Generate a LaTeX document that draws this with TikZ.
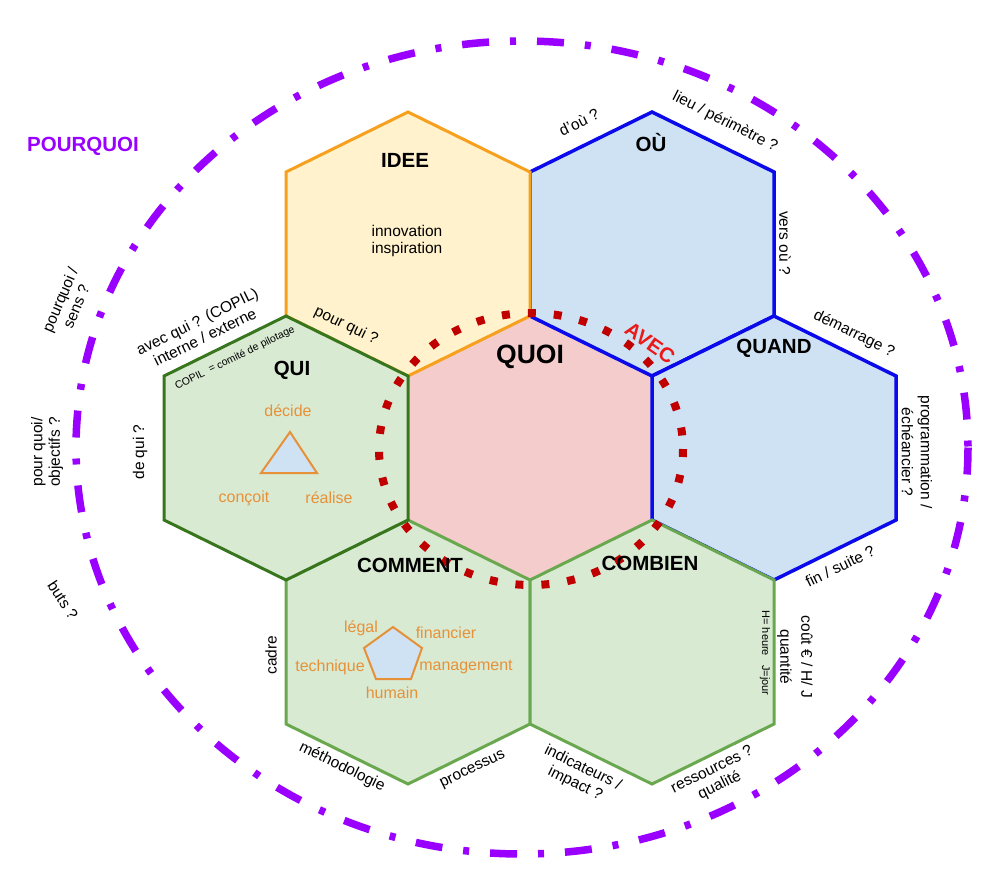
\documentclass[tikz,border=0pt]{standalone}
\usepackage{fontspec}
\setmainfont{Liberation Sans}
\definecolor{ideefill}{HTML}{FFF2CC}
\definecolor{ideeline}{RGB}{246,160,30}
\definecolor{bluefill}{HTML}{CFE2F3}
\definecolor{blueline}{RGB}{10,10,235}
\definecolor{pinkfill}{HTML}{F4CCCC}
\definecolor{greenfill}{HTML}{D9EAD3}
\definecolor{dkgreen}{HTML}{38761D}
\definecolor{mdgreen}{HTML}{6AA84F}
\definecolor{orangetxt}{HTML}{E69138}
\definecolor{dotred}{HTML}{C00000}
\definecolor{avecred}{RGB}{235,25,25}
\definecolor{violet}{HTML}{9900FF}
\begin{document}
\begin{tikzpicture}[x=1pt,y=-1pt,
  hexa/.pic={\path[pic actions] (-122,-72) -- (0,-132) -- (122,-72) -- (122,72) -- (0,132) -- (-122,72) -- cycle;},
  hexline/.style={line width=3pt, line join=miter},
  lbl/.style={font=\fontsize{15.5}{17.5}\selectfont, align=center, inner sep=0pt},
  small/.style={font=\fontsize{10.5}{12}\selectfont, inner sep=0pt},
  ttl/.style={font=\fontsize{20.5}{24}\selectfont\bfseries, inner sep=0pt},
  org/.style={font=\fontsize{16}{18}\selectfont, text=orangetxt, inner sep=0pt},
  shapeline/.style={draw=orangetxt, fill=bluefill, line width=2pt, line join=miter},
  outerring/.style={draw=violet, line width=7.5pt, dash pattern=on 27pt off 21pt on 6pt off 21pt},
  innerring/.style={draw=dotred, line width=8pt, dash pattern=on 8pt off 18pt}
]
\useasboundingbox (0,0) rectangle (1000,895);

% hexagons
\pic[fill=pinkfill] at (530,448) {hexa};
\pic[fill=bluefill, draw=blueline, hexline, line width=3.5pt] at (652,244) {hexa};
\pic[fill=bluefill, draw=blueline, hexline, line width=3.5pt] at (774,448) {hexa};
\pic[fill=ideefill, draw=ideeline, hexline] at (408,244) {hexa};
\pic[fill=greenfill, draw=mdgreen, hexline] at (408,652) {hexa};
\pic[fill=greenfill, draw=dkgreen, hexline] at (286,448) {hexa};
\pic[fill=greenfill, draw=mdgreen, hexline] at (652,652) {hexa};

% rings
\draw[outerring] (522,447.5) ellipse [x radius=446, y radius=406.5];
\draw[innerring] (531,449) ellipse [x radius=152, y radius=136];

% triangle and pentagon
\coordinate (t1) at (290,432);
\coordinate (t2) at (317,473);
\coordinate (t3) at (261,473);
\draw[shapeline] (t1) -- (t2) -- (t3) -- cycle;
\coordinate (p1) at (393,627);
\coordinate (p2) at (422,648);
\coordinate (p3) at (411,679);
\coordinate (p4) at (376,679);
\coordinate (p5) at (364,648);
\draw[shapeline] (p1) -- (p2) -- (p3) -- (p4) -- (p5) -- cycle;

% titles
\node[ttl, text=violet] (pourquoi) at (83,146) {POURQUOI};
\node[ttl] (idee) at (405,160) {IDEE};
\node[ttl] (ou) at (651,143) {OÙ};
\node[ttl, font=\fontsize{26.5}{30}\selectfont\bfseries] (quoi) at (530,357) {QUOI};
\node[ttl, text=avecred, rotate=-35] (avec) at (650,343) {AVEC};
\node[ttl] (quand) at (774,348) {QUAND};
\node[ttl] (qui) at (292,370) {QUI};
\node[ttl] (comment) at (410,565) {COMMENT};
\node[ttl] (combien) at (650,563) {COMBIEN};

% inner labels
\node[lbl] (innov) at (407,241) {innovation\\inspiration};
\node[org] (decide) at (288,411) {décide};
\node[org] (concoit) at (244,498) {conçoit};
\node[org] (realise) at (329,498) {réalise};
\node[org] (legal) at (361,628) {légal};
\node[org] (financier) at (446,633) {financier};
\node[org] (technique) at (330,667) {technique};
\node[org] (management) at (466,667) {management};
\node[org] (humain) at (392,693) {humain};
\node[small, font=\fontsize{11}{12}\selectfont, rotate=-90] (hj) at (765,653) {H= heure \ \ J=jour};
\node[small, rotate=26] (copil) at (235,358) {COPIL \ = comité de pilotage};
\node[lbl, rotate=-26] (pourqui) at (346,326) {pour qui ?};

% outer labels
\node[lbl, rotate=26] (dou) at (579,122) {d'où ?};
\node[lbl, rotate=-27] (lieu) at (725,122) {lieu / périmètre ?};
\node[lbl, rotate=-90] (versou) at (785,243) {vers où ?};
\node[lbl, rotate=-26] (demarrage) at (854,334) {démarrage ?};
\node[lbl, rotate=-90, font=\fontsize{15.5}{19}\selectfont] (prog) at (917,452) {programmation /\\échéancier ?};
\node[lbl, rotate=26] (fin) at (840,566) {fin / suite ?};
\node[lbl, rotate=-90, font=\fontsize{15.5}{21}\selectfont] (cout) at (795,657) {coût € / H/ J\\quantité};
\node[lbl, rotate=26] (ressources) at (716,778) {ressources ?\\qualité};
\node[lbl, rotate=-26] (indic) at (579,776) {indicateurs /\\impact ?};
\node[lbl, rotate=26] (processus) at (473,770) {processus};
\node[lbl, rotate=-26] (methodo) at (342,767) {méthodologie};
\node[lbl, rotate=90] (cadre) at (271,655) {cadre};
\node[lbl, rotate=90] (dequi) at (140,452) {de qui ?};
\node[lbl, rotate=26] (avecqui) at (201,329) {avec qui ? (COPIL)\\interne / externe};
\node[lbl, rotate=90] (pourquoiobj) at (47,452) {pour quoi/\\objectifs ?};
\node[lbl, rotate=67] (pourquoisens) at (68,303) {pourquoi /\\sens ?};
\node[lbl, rotate=-57] (buts) at (63,600) {buts ?};
\end{tikzpicture}
\end{document}
